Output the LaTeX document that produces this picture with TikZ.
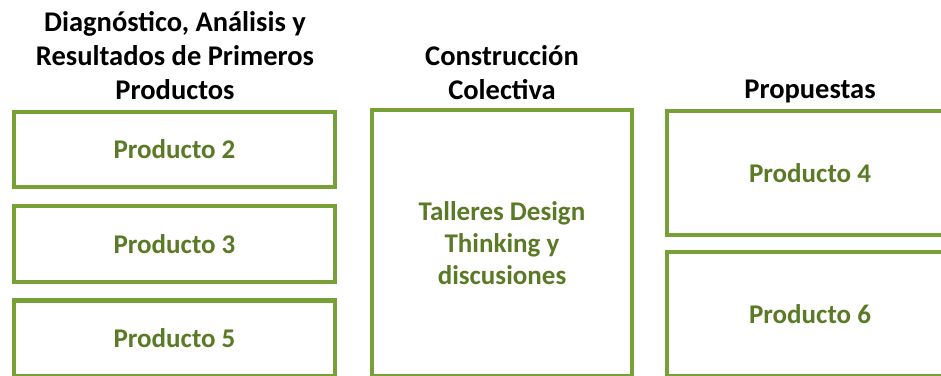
\documentclass[tikz,border=0pt]{standalone}
\usepackage{fontspec}
\setmainfont{Carlito}
\definecolor{boxgreen}{RGB}{119,160,55}
\definecolor{textgreen}{RGB}{90,122,38}
\tikzset{
  prodbox/.style={draw=boxgreen, line width=4.5pt, fill=white, text=textgreen,
    font=\fontsize{27}{32}\selectfont\bfseries, align=center, inner sep=0pt},
  coltitle/.style={font=\fontsize{28.5}{34}\selectfont\bfseries, align=center, inner sep=0pt}
}
\begin{document}
\begin{tikzpicture}[x=1pt, y=-1pt]
    \useasboundingbox (0, 0) rectangle (941, 375);
    \clip (0, 0) rectangle (941, 375);

    % Titles
    \node [coltitle] (tdiag) at (175, 56) {Diagnóstico, Análisis y\\Resultados de Primeros\\Productos};
    \node [coltitle] (tcons) at (502, 73) {Construcción\\Colectiva};
    \node [coltitle] (tprop) at (810, 91) {Propuestas};

    % Left column
    \node [prodbox, minimum width=321pt, minimum height=75pt] (p2) at (174.5, 149.5) {Producto 2};
    \node [prodbox, minimum width=321pt, minimum height=76pt] (p3) at (174.5, 244) {Producto 3};
    \node [prodbox, minimum width=321pt, minimum height=76pt] (p5) at (174.5, 338.5) {Producto 5};

    % Middle column
    \node [prodbox, minimum width=260pt, minimum height=266pt] (tall) at (502, 243) {Talleres Design\\Thinking y\\discusiones};

    % Right column
    \node [prodbox, minimum width=286pt, minimum height=124pt] (p4) at (810, 173) {Producto 4};
    \node [prodbox, minimum width=286pt, minimum height=124pt] (p6) at (810, 314) {Producto 6};
\end{tikzpicture}
\end{document}
